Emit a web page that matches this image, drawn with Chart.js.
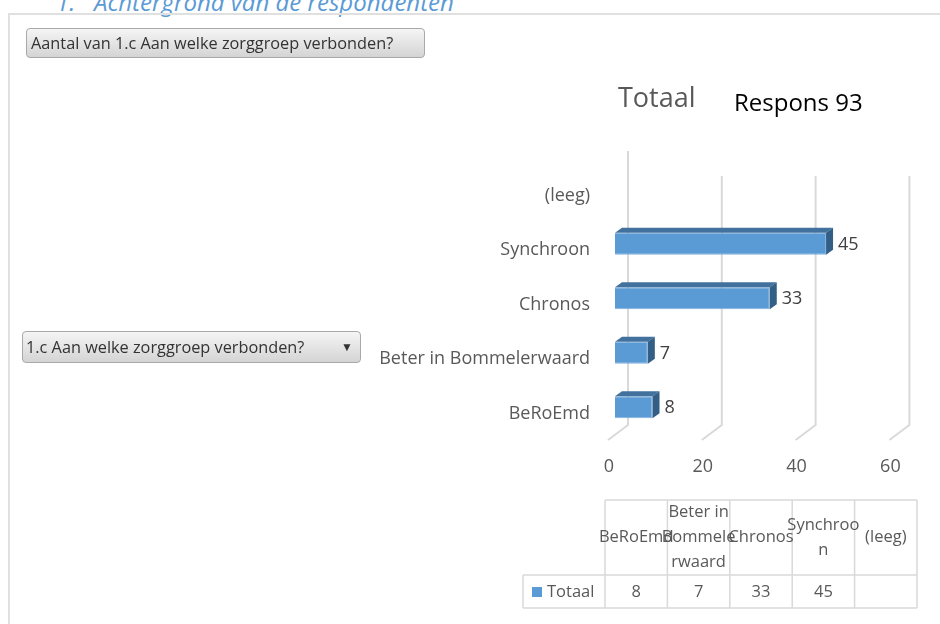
<!DOCTYPE html>
<html>
<head>
<meta charset="utf-8">
<script src="https://cdn.jsdelivr.net/npm/chart.js"></script>
<style>
  body { margin: 0; width: 940px; height: 624px; overflow: hidden; background: #fff;
         font-family: "Open Sans", sans-serif; position: relative; }
  #kop { position: absolute; left: 56px; top: -10px; font-size: 24px; line-height: 24px;
         font-style: italic; color: #5b9bd5; white-space: pre; }
  #kader { position: absolute; left: 8px; top: 13px; width: 960px; height: 640px;
           border: 2px solid #e0e0e0; box-sizing: border-box; }
  canvas { position: absolute; left: 0; top: 0; }
  .knop { position: absolute; box-sizing: border-box; border: 1px solid #a9a9a9; border-radius: 4px;
          background: linear-gradient(#f5f5f5, #d4d4d4); color: #333; font-size: 16.3px;
          white-space: nowrap; padding-left: 4px; z-index: 2; }
  #veld { left: 26px; top: 28px; width: 399px; height: 30px; line-height: 28px; }
  #filter { left: 22px; top: 331px; width: 339px; height: 32px; line-height: 30px; padding-left: 3px; }
  #filter span { position: absolute; right: 7px; top: 0; font-size: 12px; color: #333; }
  .titel { position: absolute; font-size: 27px; line-height: 27px; color: #595959; white-space: nowrap; z-index: 2; }
</style>
</head>
<body>
<div id="kop">1.   Achtergrond van de respondenten</div>
<div id="kader"></div>
<canvas id="grafiek" width="940" height="624"></canvas>
<div class="knop" id="veld">Aantal van 1.c Aan welke zorggroep verbonden?</div>
<div class="knop" id="filter">1.c Aan welke zorggroep verbonden?<span>&#9660;</span></div>
<div class="titel" style="left:618px; top:83px;">Totaal</div>
<div class="titel" style="left:734px; top:90px; font-size:24px; line-height:24px; color:#000;">Respons 93</div>

<script>
// --- gegevens
const categorieen = ["BeRoEmd", "Beter in Bommelerwaard", "Chronos", "Synchroon", "(leeg)"];
const totaal = [8, 7, 33, 45, null];
const kopRegels = [["BeRoEmd"], ["Beter in", "Bommele", "rwaard"], ["Chronos"], ["Synchroo", "n"], ["(leeg)"]];
const reeksNaam = "Totaal";

const GRIJS = "#595959";
const LIJN = "#d9d9d9";

// 3D-achtige balken, rasterlijnen en gegevenslabels
const bar3d = {
    id: "bar3d",
    beforeDatasetsDraw(chart) {
        const { ctx, chartArea, scales: { x } } = chart;
        const achterOnder = chartArea.bottom - 9.5;
        ctx.save();
        ctx.strokeStyle = LIJN;
        ctx.lineWidth = 2;
        x.ticks.forEach((t, i) => {
            const px = x.getPixelForValue(t.value);
            ctx.beginPath();
            ctx.moveTo(px + 13, i === 0 ? chartArea.top - 11 : chartArea.top + 14);
            ctx.lineTo(px + 13, achterOnder);
            ctx.lineTo(px - 7, achterOnder + 15);
            ctx.stroke();
        });
        ctx.restore();
    },
    afterDatasetsDraw(chart) {
        const ctx = chart.ctx;
        const data = chart.data.datasets[0].data;
        const dx = 7, dy = 5;
        ctx.save();
        chart.getDatasetMeta(0).data.forEach((bar, i) => {
            if (data[i] == null) return;
            const { x, y, base, height } = bar.getProps(["x", "y", "base", "height"], true);
            const boven = y - height / 2, onder = y + height / 2;
            ctx.fillStyle = "#41719c";
            ctx.beginPath();
            ctx.moveTo(base, boven); ctx.lineTo(base + dx, boven - dy);
            ctx.lineTo(x + dx, boven - dy); ctx.lineTo(x, boven);
            ctx.closePath(); ctx.fill();
            ctx.fillStyle = "#335f87";
            ctx.beginPath();
            ctx.moveTo(x, boven); ctx.lineTo(x + dx, boven - dy);
            ctx.lineTo(x + dx, onder - dy); ctx.lineTo(x, onder);
            ctx.closePath(); ctx.fill();
            ctx.fillStyle = "#404040";
            ctx.font = '18px "Open Sans"';
            ctx.textAlign = "left";
            ctx.textBaseline = "middle";
            ctx.fillText(String(data[i]), x + dx + 5, y + 1);
        });
        ctx.restore();
    },
    afterDraw(chart) {
        // gegevenstabel onder de grafiek
        const ctx = chart.ctx;
        const labels = chart.data.labels;
        const data = chart.data.datasets[0].data;
        const links = 605, breed = 62.4, top = 500, midden = 575, bodem = 608, sleutel = 523;
        const rechts = links + breed * labels.length;
        ctx.save();
        ctx.strokeStyle = LIJN;
        ctx.lineWidth = 1.5;
        ctx.beginPath();
        ctx.moveTo(links, top); ctx.lineTo(rechts, top);
        ctx.moveTo(sleutel, midden); ctx.lineTo(rechts, midden);
        ctx.moveTo(sleutel, bodem); ctx.lineTo(rechts, bodem);
        ctx.moveTo(sleutel, midden); ctx.lineTo(sleutel, bodem);
        for (let i = 0; i <= labels.length; i++) {
            ctx.moveTo(links + breed * i, top);
            ctx.lineTo(links + breed * i, bodem);
        }
        ctx.stroke();

        ctx.fillStyle = GRIJS;
        ctx.font = '16.5px "Open Sans"';
        ctx.textAlign = "center";
        ctx.textBaseline = "middle";
        labels.forEach((lab, i) => {
            const cx = links + breed * (i + 0.5);
            const regels = kopRegels[i];
            const y0 = (top + midden) / 2 - (regels.length - 1) * 12.5;
            regels.forEach((r, j) => ctx.fillText(r, cx, y0 + j * 25));
            if (data[i] != null) ctx.fillText(String(data[i]), cx, (midden + bodem) / 2 + 1);
        });
        ctx.fillStyle = "#5b9bd5";
        ctx.fillRect(532, 587, 10, 10);
        ctx.fillStyle = GRIJS;
        ctx.textAlign = "left";
        ctx.fillText(chart.data.datasets[0].label, 547, 592);
        ctx.restore();
    },
};

new Chart(document.getElementById("grafiek"), {
    type: "bar",
    data: {
        labels: categorieen,
        datasets: [{
            label: reeksNaam,
            data: totaal,
            backgroundColor: "#5b9bd5",
            borderColor: "#7fb1df",
            borderWidth: 1,
            categoryPercentage: 1,
            barPercentage: 0.4,
        }],
    },
    options: {
        indexAxis: "y",
        responsive: false,
        animation: false,
        events: [],
        layout: { padding: { left: 360, right: 43.6, top: 162, bottom: 129.5 } },
        plugins: { legend: { display: false }, tooltip: { enabled: false }, title: { display: false } },
        scales: {
            x: {
                min: 0, max: 60,
                afterFit: s => { s.height = 60; },
                grid: { display: false, drawTicks: false },
                border: { display: false },
                ticks: { stepSize: 20, padding: 22, labelOffset: -6, color: GRIJS,
                         font: { family: "Open Sans", size: 18 } },
            },
            y: {
                reverse: true,
                afterFit: s => { s.width = 255; },
                grid: { display: false, drawTicks: false },
                border: { display: false },
                ticks: { padding: 25, labelOffset: 6.5, color: GRIJS, autoSkip: false,
                         font: { family: "Open Sans", size: 18 } },
            },
        },
    },
    plugins: [bar3d],
});
</script>
</body>
</html>
